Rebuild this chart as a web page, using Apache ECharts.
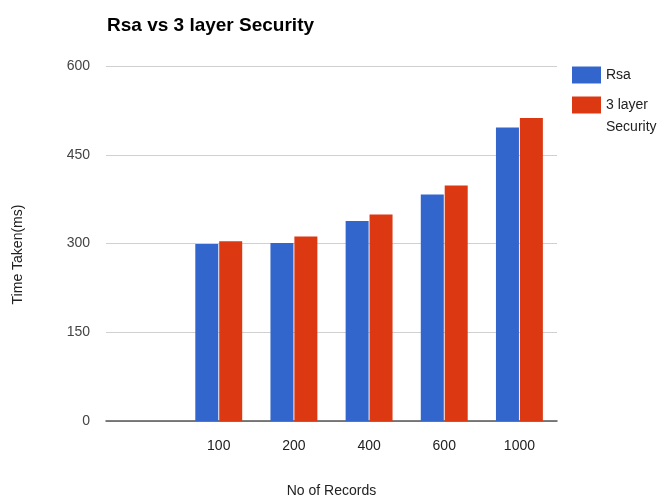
<!DOCTYPE html>
<html>
<head>
<meta charset="utf-8">
<script src="https://cdn.jsdelivr.net/npm/echarts@6/dist/echarts.min.js"></script>
<style>
  html, body { margin: 0; padding: 0; background: #fff; }
  #chart { width: 659px; height: 500px; }
</style>
</head>
<body>
<div id="chart"></div>
<script>
// first slot is empty in the original chart
const categories = ['', '100', '200', '400', '600', '1000'];
const rsaValues = [null, 299, 301, 338, 383, 496];
const layerValues = [null, 304, 312, 349, 398, 512];
const yTicks = [0, 150, 300, 450, 600];

const chart = echarts.init(document.getElementById('chart'));

const legendBase = {
  orient: 'vertical',
  left: 572,
  padding: 0,
  itemWidth: 29,
  itemHeight: 17,
  icon: 'rect',
  textStyle: {fontSize: 14, color: '#222', lineHeight: 22},
};

const option = {
  animation: false,
  textStyle: {fontFamily: 'Liberation Sans, Arial, sans-serif'},
  title: {
    text: 'Rsa vs 3 layer Security',
    left: 102,
    top: 11,
    textStyle: {fontSize: 19, fontWeight: 'bold', color: '#000'},
  },
  legend: [
    Object.assign({}, legendBase, {top: 64, data: ['Rsa']}),
    // empty first line keeps "3 layer" level with the swatch
    Object.assign({}, legendBase, {
      top: 72,
      data: ['3 layer Security'],
      formatter: function () {
        return '\n3 layer\nSecurity';
      },
    }),
  ],
  grid: {left: 106, right: 102, top: 66, bottom: 79, containLabel: false, outerBoundsMode: 'none'},
  xAxis: {
    type: 'category',
    data: categories,
    name: 'No of Records',
    nameLocation: 'middle',
    nameGap: 63,
    nameTextStyle: {fontSize: 14, color: '#222'},
    axisTick: {show: false},
    axisLine: {lineStyle: {color: '#555', width: 1.5}},
    axisLabel: {fontSize: 14, color: '#222', margin: 18},
  },
  yAxis: {
    type: 'value',
    min: yTicks[0],
    max: yTicks[yTicks.length - 1],
    interval: 150,
    name: 'Time Taken(ms)',
    nameLocation: 'middle',
    nameRotate: 90,
    nameGap: 81,
    nameTextStyle: {fontSize: 14, color: '#222', padding: [0, 0, 0, -22]},
    axisLine: {show: false},
    axisTick: {show: false},
    axisLabel: {fontSize: 14, color: '#444', margin: 16},
    splitLine: {lineStyle: {color: '#d0d0d0', width: 1}},
  },
  series: [
    {
      name: 'Rsa',
      type: 'bar',
      data: rsaValues,
      barWidth: 23,
      barGap: '4%',
      itemStyle: {color: '#3366cc'},
    },
    {
      name: '3 layer Security',
      type: 'bar',
      data: layerValues,
      barWidth: 23,
      itemStyle: {color: '#dc3912'},
    },
  ],
};

chart.setOption(option);
</script>
</body>
</html>
